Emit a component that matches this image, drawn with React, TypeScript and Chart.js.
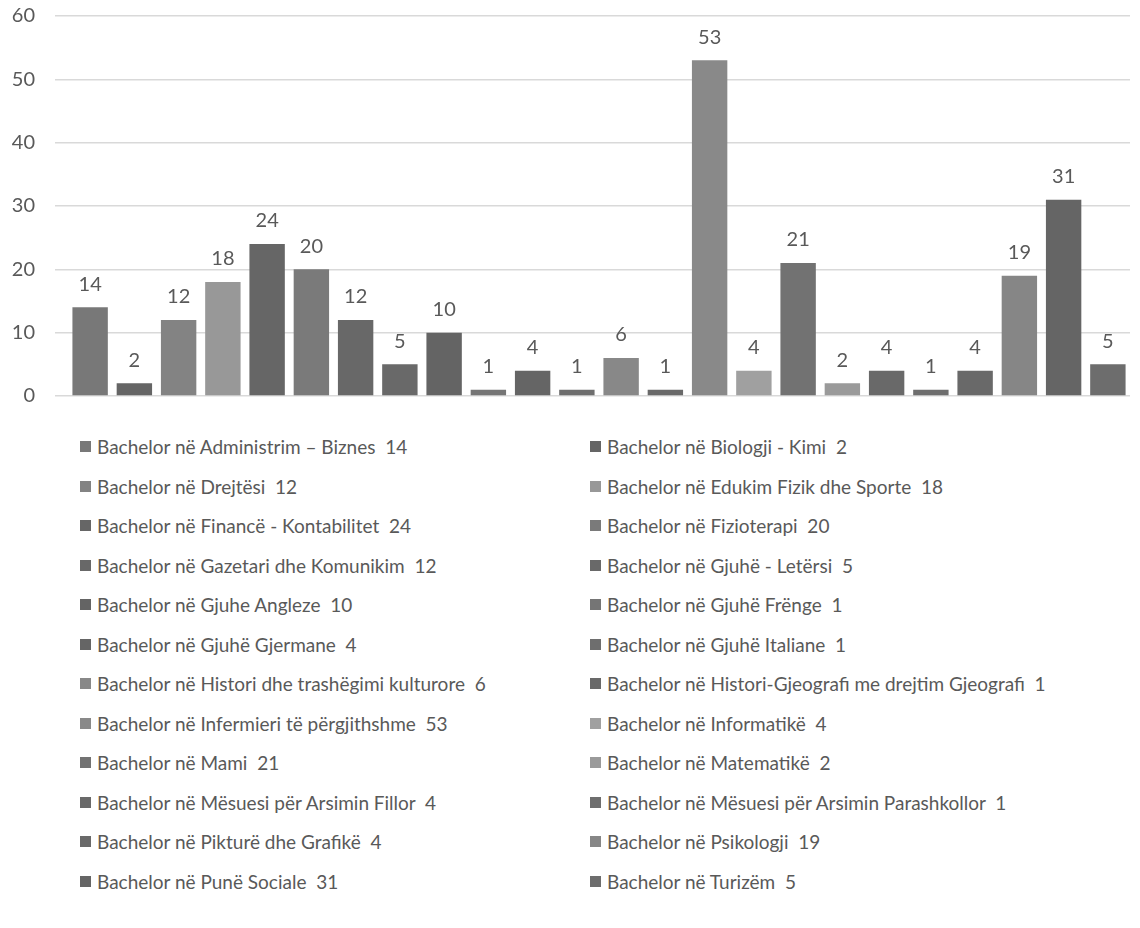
import React, { useEffect, useRef } from "react";
import { Chart, registerables } from "chart.js";

Chart.register(...registerables);

const categories = [
  "Bachelor në Administrim – Biznes",
  "Bachelor në Biologji - Kimi",
  "Bachelor në Drejtësi",
  "Bachelor në Edukim Fizik dhe Sporte",
  "Bachelor në Financë - Kontabilitet",
  "Bachelor në Fizioterapi",
  "Bachelor në Gazetari dhe Komunikim",
  "Bachelor në Gjuhë - Letërsi",
  "Bachelor në Gjuhe Angleze",
  "Bachelor në Gjuhë Frënge",
  "Bachelor në Gjuhë Gjermane",
  "Bachelor në Gjuhë Italiane",
  "Bachelor në Histori dhe trashëgimi kulturore",
  "Bachelor në Histori-Gjeografi me drejtim Gjeografi",
  "Bachelor në Infermieri të përgjithshme",
  "Bachelor në Informatikë",
  "Bachelor në Mami",
  "Bachelor në Matematikë",
  "Bachelor në Mësuesi për Arsimin Fillor",
  "Bachelor në Mësuesi për Arsimin Parashkollor",
  "Bachelor në Pikturë dhe Grafikë",
  "Bachelor në Psikologji",
  "Bachelor në Punë Sociale",
  "Bachelor në Turizëm",
];

const values = [14, 2, 12, 18, 24, 20, 12, 5, 10, 1, 4, 1, 6, 1, 53, 4, 21, 2, 4, 1, 4, 19, 31, 5];

const barColors = [
  "#787878", "#656565", "#838383", "#989898", "#666666", "#7a7a7a",
  "#686868", "#696969", "#646464", "#757575", "#656565", "#6e6e6e",
  "#888888", "#696969", "#898989", "#a0a0a0", "#727272", "#9a9a9a",
  "#696969", "#6e6e6e", "#696969", "#868686", "#656565", "#6d6d6d",
];

const yTicks = [0, 10, 20, 30, 40, 50, 60];

const FONT = "Lato, 'Noto Sans', sans-serif";
const TEXT = "#595959";

const valueLabels = {
  id: "valueLabels",
  afterDatasetsDraw(chart: any) {
    const ctx = chart.ctx;
    const meta = chart.getDatasetMeta(0);
    ctx.save();
    ctx.font = `20px ${FONT}`;
    ctx.fillStyle = TEXT;
    ctx.textAlign = "center";
    ctx.textBaseline = "middle";
    meta.data.forEach((bar: any, i: number) => {
      ctx.fillText(String(values[i]), bar.x, bar.y - 23);
    });
    ctx.restore();
  },
};

export default function App() {
  const ref = useRef<HTMLCanvasElement | null>(null);

  useEffect(() => {
    if (!ref.current) return;
    const chart = new Chart(ref.current, {
      type: "bar",
      data: {
        labels: categories,
        datasets: [
          {
            data: values,
            backgroundColor: barColors,
            borderWidth: 0,
            barPercentage: 0.8,
            categoryPercentage: 1.0,
          },
        ],
      },
      options: {
        animation: false,
        responsive: false,
        maintainAspectRatio: false,
        layout: { padding: { top: 16, left: 0, right: 10, bottom: 24 } },
        plugins: { legend: { display: false }, tooltip: { enabled: false } },
        scales: {
          x: {
            display: false,
          },
          y: {
            min: 0,
            max: 60,
            afterBuildTicks: (axis: any) => {
              axis.ticks = yTicks.map((v) => ({ value: v }));
            },
            afterFit: (axis: any) => {
              axis.width = 68;
              axis.paddingTop = 0;
              axis.paddingBottom = 0;
            },
            grid: { color: "#d9d9d9", lineWidth: 1.5, drawTicks: true, tickLength: 13 },
            border: { display: false },
            ticks: { color: TEXT, font: { family: FONT, size: 20 }, padding: 20 },
          },
        },
      },
      plugins: [valueLabels],
    });
    return () => chart.destroy();
  }, []);

  return (
    <div style={{ position: "absolute", left: 0, top: 0, width: 1140, height: 928, background: "#fff" }}>
      <canvas ref={ref} width={1140} height={420} style={{ display: "block" }} />
      <div
        style={{
          position: "absolute",
          left: 80,
          top: 427,
          display: "grid",
          gridTemplateColumns: "510px 550px",
          gridAutoRows: "39.5px",
          alignItems: "center",
          fontFamily: FONT,
          fontSize: 19,
          color: TEXT,
          whiteSpace: "pre",
        }}
      >
        {categories.map((c, i) => (
          <div key={i} style={{ display: "flex", alignItems: "center" }}>
            <span
              style={{
                display: "inline-block",
                width: 11,
                height: 11,
                background: barColors[i],
                marginRight: 6,
              }}
            />
            <span>{`${c}  ${values[i]}`}</span>
          </div>
        ))}
      </div>
    </div>
  );
}
